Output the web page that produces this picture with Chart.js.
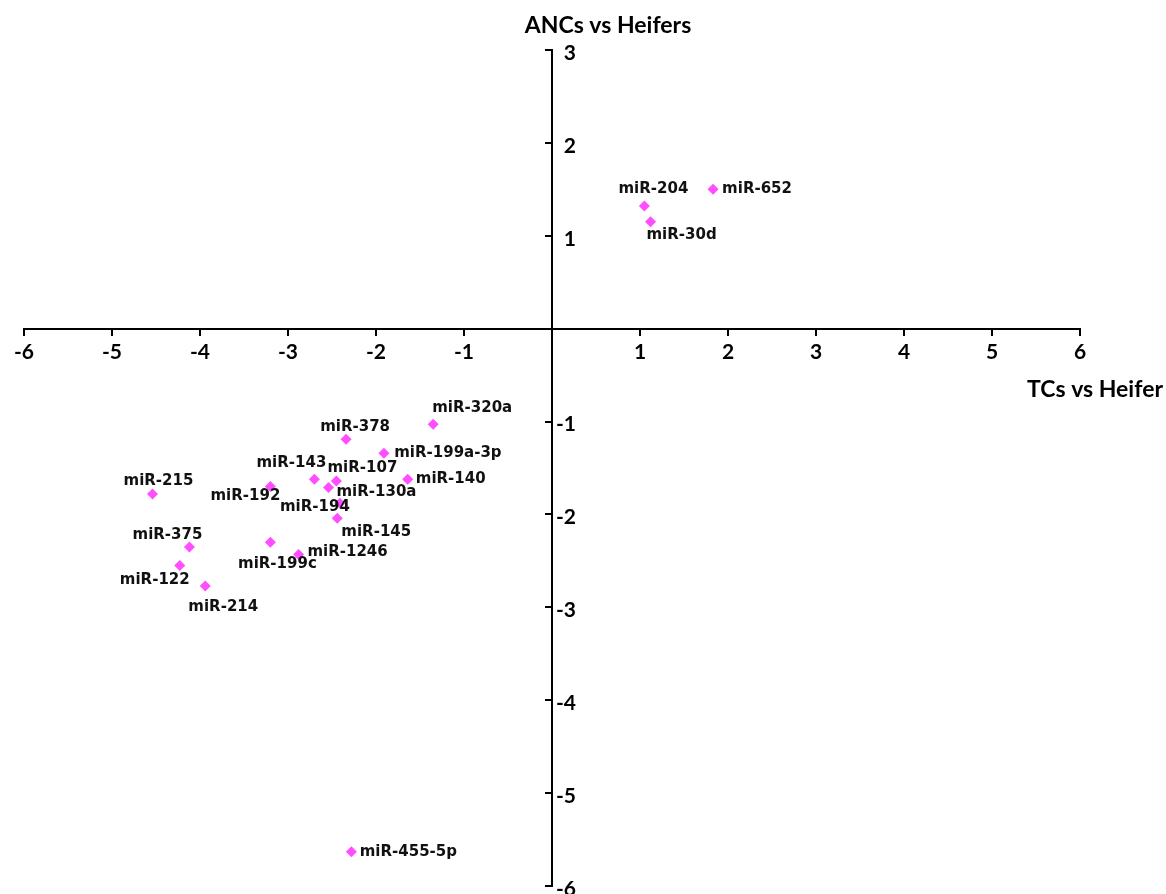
<!DOCTYPE html>
<html>
<head>
<meta charset="utf-8">
<title>ANCs vs Heifers</title>
<script src="https://cdn.jsdelivr.net/npm/chart.js@4.4.1/dist/chart.umd.min.js"></script>
<style>
  html, body { margin: 0; padding: 0; background: #fff; }
  #wrap { width: 1166px; height: 894px; }
</style>
</head>
<body>
<div id="wrap"><canvas id="mirChart"></canvas></div>
<script>
const mirNames = [
  'miR-320a', 'miR-378', 'miR-199a-3p', 'miR-143', 'miR-107', 'miR-140',
  'miR-130a', 'miR-192', 'miR-215', 'miR-194', 'miR-145', 'miR-199c',
  'miR-1246', 'miR-375', 'miR-122', 'miR-214', 'miR-204', 'miR-652',
  'miR-30d', 'miR-455-5p'
];
const tcsVsHeifer = [
  -1.35, -2.34, -1.91, -2.70, -2.45, -1.64,
  -2.54, -3.20, -4.54, -2.41, -2.44, -3.20,
  -2.88, -4.12, -4.23, -3.94, 1.05, 1.83,
  1.12, -2.28
];
const ancsVsHeifers = [
  -1.03, -1.19, -1.34, -1.62, -1.64, -1.62,
  -1.71, -1.70, -1.78, -1.88, -2.04, -2.30,
  -2.43, -2.35, -2.55, -2.77, 1.32, 1.50,
  1.15, -5.63
];
const xTickValues = [-6, -5, -4, -3, -2, -1, 0, 1, 2, 3, 4, 5, 6];
const yTickValues = [3, 2, 1, 0, -1, -2, -3, -4, -5, -6];

// where each name sits relative to its marker (px)
const labelShift = [
  [39, -16], [9, -12], [64, 0], [-23, -16], [26, -13], [43, 0],
  [48, 5], [-25, 10], [6, -13], [-25, 4], [39, 14], [7, 22],
  [49, -2], [-22, -12], [-25, 15], [18, 21], [9, -17], [44, 0],
  [31, 13], [57, 0]
];

const tickFont = { family: 'Lato', size: 21, weight: 'bold' };

const pointLabels = {
  id: 'pointLabels',
  afterDatasetsDraw(chart) {
    const { ctx } = chart;
    const meta = chart.getDatasetMeta(0);
    ctx.save();
    ctx.font = 'bold 15px "DejaVu Sans"';
    ctx.fillStyle = '#111';
    ctx.textAlign = 'center';
    ctx.textBaseline = 'middle';
    meta.data.forEach((pt, i) => {
      const [dx, dy] = labelShift[i];
      ctx.fillText(mirNames[i], pt.x + dx, pt.y + dy);
    });
    ctx.restore();
  }
};

// y tick labels sit on the right of the centred axis, which Chart.js
// does not do for object positions, so they are written here
const yTickLabels = {
  id: 'yTickLabels',
  afterDraw(chart) {
    const { ctx, scales } = chart;
    const x0 = scales.x.getPixelForValue(0);
    ctx.save();
    ctx.font = 'bold 21px Lato';
    ctx.fillStyle = '#000';
    ctx.textAlign = 'right';
    ctx.textBaseline = 'middle';
    scales.y.ticks.forEach((t) => {
      if (t.value === 0) return;
      ctx.fillText(String(t.value), x0 + 24, scales.y.getPixelForValue(t.value) + 3);
    });
    ctx.restore();
  }
};

const axisTitles = {
  id: 'axisTitles',
  afterDraw(chart) {
    const { ctx, scales, width } = chart;
    const x0 = scales.x.getPixelForValue(0);
    const y0 = scales.y.getPixelForValue(0);
    ctx.save();
    ctx.font = 'bold 23px Lato';
    ctx.fillStyle = '#000';
    ctx.textBaseline = 'middle';
    ctx.textAlign = 'center';
    ctx.fillText('ANCs vs Heifers', x0 + 56, scales.y.top - 24);
    ctx.textAlign = 'right';
    ctx.fillText('TCs vs Heifer', width - 3, y0 + 61);
    ctx.restore();
  }
};

new Chart(document.getElementById('mirChart'), {
  type: 'scatter',
  data: {
    datasets: [{
      label: 'miRNA',
      data: mirNames.map((n, i) => ({ x: tcsVsHeifer[i], y: ancsVsHeifers[i] })),
      pointStyle: 'rectRot',
      pointRadius: 5.5,
      pointHoverRadius: 5.5,
      pointBorderWidth: 0,
      backgroundColor: '#ff4dff',
      borderColor: '#ff4dff'
    }]
  },
  options: {
    responsive: true,
    maintainAspectRatio: false,
    animation: false,
    layout: { padding: { left: 24, right: 86, top: 50, bottom: 8 } },
    plugins: {
      legend: { display: false },
      tooltip: { enabled: false }
    },
    scales: {
      x: {
        type: 'linear',
        position: { y: 0 },
        min: -6,
        max: 6,
        afterBuildTicks: (s) => { s.ticks = xTickValues.map(v => ({ value: v })); },
        ticks: {
          color: '#000',
          font: tickFont,
          padding: 5,
          maxRotation: 0,
          callback: (v) => (v === 0 ? '' : String(v))
        },
        grid: { drawOnChartArea: false, tickLength: 6, color: '#000', lineWidth: 2 },
        border: { color: '#000', width: 2 }
      },
      y: {
        type: 'linear',
        position: { x: 0 },
        min: -6,
        max: 3,
        afterBuildTicks: (s) => { s.ticks = yTickValues.map(v => ({ value: v })); },
        ticks: { display: false },
        grid: { drawOnChartArea: false, tickLength: 6, color: '#000', lineWidth: 2 },
        border: { color: '#000', width: 2 }
      }
    }
  },
  plugins: [pointLabels, yTickLabels, axisTitles]
});
</script>
</body>
</html>
